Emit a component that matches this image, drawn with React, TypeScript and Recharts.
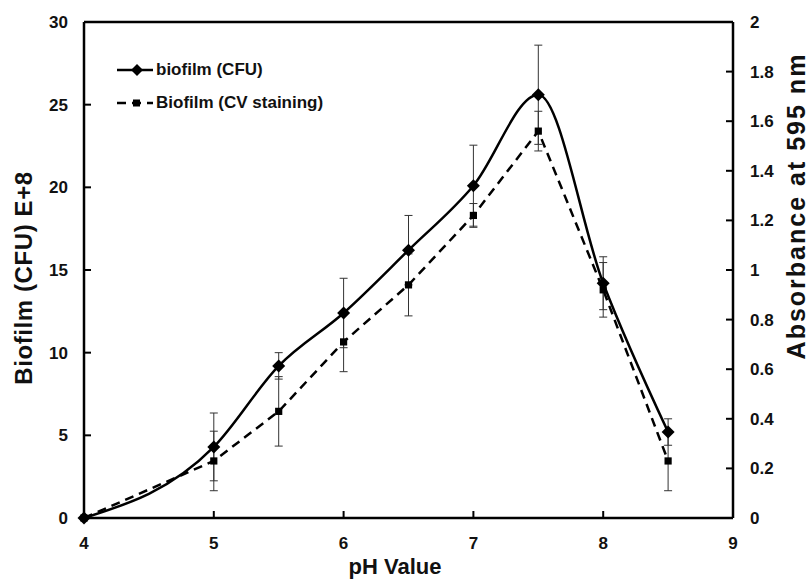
import React from "react";
import {
  LineChart,
  Line,
  XAxis,
  YAxis,
  ErrorBar,
  ReferenceLine,
  Legend,
  Label,
} from "recharts";

const phValues = [4, 5, 5.5, 6, 6.5, 7, 7.5, 8, 8.5];
const cfuValues = [0, 4.3, 9.2, 12.4, 16.2, 20.1, 25.6, 14.2, 5.2];
const cfuErrors = [0, 2.05, 0.8, 2.1, 2.1, 2.45, 3.0, 1.6, 0.8];
const cvValues = [0, 0.23, 0.43, 0.71, 0.94, 1.22, 1.56, 0.92, 0.23];
const cvErrors = [0, 0.12, 0.14, 0.12, 0.125, 0.048, 0.08, 0.11, 0.12];

const xTicks = [4, 5, 6, 7, 8, 9];
const leftTicks = [0, 5, 10, 15, 20, 25, 30];
const rightTicks = [0, 0.2, 0.4, 0.6, 0.8, 1, 1.2, 1.4, 1.6, 1.8, 2];

const cfuName = "biofilm (CFU)";
const cvName = "Biofilm (CV staining)";
const xTitle = "pH Value";
const leftTitle = "Biofilm (CFU) E+8";
const rightTitle = "Absorbance at 595 nm";

const data = phValues.map((ph, i) => ({
  ph,
  cfu: cfuValues[i],
  cfuErr: cfuErrors[i],
  cv: cvValues[i],
  cvErr: cvErrors[i],
}));

const FONT = "'Liberation Sans', Arial, sans-serif";
const tickStyle = { fontSize: 17, fontWeight: 700, fill: "#111", fontFamily: FONT };

const Diamond = (props: any) => {
  const { cx, cy, index } = props;
  if (cx == null || cy == null) return <g key={`d-${index}`} />;
  const s = 6.5;
  return (
    <polygon
      key={`d-${index}`}
      points={`${cx},${cy - s} ${cx + s},${cy} ${cx},${cy + s} ${cx - s},${cy}`}
      fill="#000"
    />
  );
};

const Square = (props: any) => {
  const { cx, cy, index } = props;
  if (cx == null || cy == null) return <g key={`s-${index}`} />;
  const s = 3.6;
  return <rect key={`s-${index}`} x={cx - s} y={cy - s} width={s * 2} height={s * 2} fill="#000" />;
};

const LegendContent = () => (
  <div style={{ fontFamily: FONT, fontWeight: 700, fontSize: 17, color: "#111" }}>
    <div style={{ display: "flex", alignItems: "center", height: 33 }}>
      <svg width={38} height={16} style={{ marginRight: 1 }}>
        <line x1={0} y1={8} x2={36} y2={8} stroke="#000" strokeWidth={2.5} />
        <polygon points="20,2 26,8 20,14 14,8" fill="#000" />
      </svg>
      <span>{cfuName}</span>
    </div>
    <div style={{ display: "flex", alignItems: "center", height: 33 }}>
      <svg width={38} height={16} style={{ marginRight: 1 }}>
        <line x1={0} y1={8} x2={36} y2={8} stroke="#000" strokeWidth={2.5} strokeDasharray="9 6" />
        <rect x={16} y={4.5} width={7} height={7} fill="#000" />
      </svg>
      <span>{cvName}</span>
    </div>
  </div>
);

const rotatedTitle = (text: string, cx: number, cy: number, size: number, spacing: number) => () =>
  (
    <text
      x={cx}
      y={cy}
      transform={`rotate(-90 ${cx} ${cy})`}
      textAnchor="middle"
      dominantBaseline="central"
      style={{ fontFamily: FONT, fontWeight: 700, fontSize: size, letterSpacing: spacing }}
      fill="#111"
    >
      {text}
    </text>
  );

const bottomTitle = () => (
  <text
    x={395}
    y={574}
    textAnchor="middle"
    style={{ fontFamily: FONT, fontWeight: 700, fontSize: 22 }}
    fill="#111"
  >
    {xTitle}
  </text>
);

export default function App() {
  return (
    <div style={{ position: "absolute", left: 0, top: 0, width: 810, height: 582, background: "#fff" }}>
      <LineChart
        width={810}
        height={582}
        data={data}
        margin={{ top: 22, right: 0, bottom: 0, left: 0 }}
      >
        <XAxis
          dataKey="ph"
          type="number"
          domain={[4, 9]}
          ticks={xTicks}
          interval={0}
          height={64}
          axisLine={{ stroke: "#000", strokeWidth: 2.5 }}
          tickLine={{ stroke: "#000", strokeWidth: 2 }}
          tickSize={-7}
          tickMargin={26}
          tick={tickStyle}
        >
          <Label content={bottomTitle} />
        </XAxis>
        <YAxis
          yAxisId="left"
          orientation="left"
          domain={[0, 30]}
          ticks={leftTicks}
          interval={0}
          width={84}
          axisLine={{ stroke: "#000", strokeWidth: 2.5 }}
          tickLine={{ stroke: "#000", strokeWidth: 2 }}
          tickSize={-7}
          tickMargin={23}
          tick={tickStyle}
        >
          <Label content={rotatedTitle(leftTitle, 23, 278, 24, 0.6)} />
        </YAxis>
        <YAxis
          yAxisId="right"
          orientation="right"
          domain={[0, 2]}
          ticks={rightTicks}
          interval={0}
          width={77}
          axisLine={{ stroke: "#000", strokeWidth: 2.5 }}
          tickLine={{ stroke: "#000", strokeWidth: 2 }}
          tickSize={-7}
          tickMargin={24}
          tick={tickStyle}
          tickFormatter={(v: number) => String(v)}
        >
          <Label content={rotatedTitle(rightTitle, 796, 206, 25, 2)} />
        </YAxis>
        <ReferenceLine yAxisId="left" y={30} stroke="#000" strokeWidth={2.5} />
        <Legend
          layout="vertical"
          align="center"
          verticalAlign="middle"
          content={LegendContent}
          wrapperStyle={{ position: "absolute", left: 117, top: 53, width: 260, height: 66 }}
        />
        <Line
          yAxisId="right"
          dataKey="cv"
          type="linear"
          stroke="#000"
          strokeWidth={2.5}
          strokeDasharray="9 6"
          dot={Square}
          activeDot={false}
          isAnimationActive={false}
        >
          <ErrorBar dataKey="cvErr" direction="y" width={4} stroke="#333" strokeWidth={1} />
        </Line>
        <Line
          yAxisId="left"
          dataKey="cfu"
          type="monotone"
          stroke="#000"
          strokeWidth={2.5}
          dot={Diamond}
          activeDot={false}
          isAnimationActive={false}
        >
          <ErrorBar dataKey="cfuErr" direction="y" width={4} stroke="#333" strokeWidth={1} />
        </Line>
      </LineChart>
    </div>
  );
}
